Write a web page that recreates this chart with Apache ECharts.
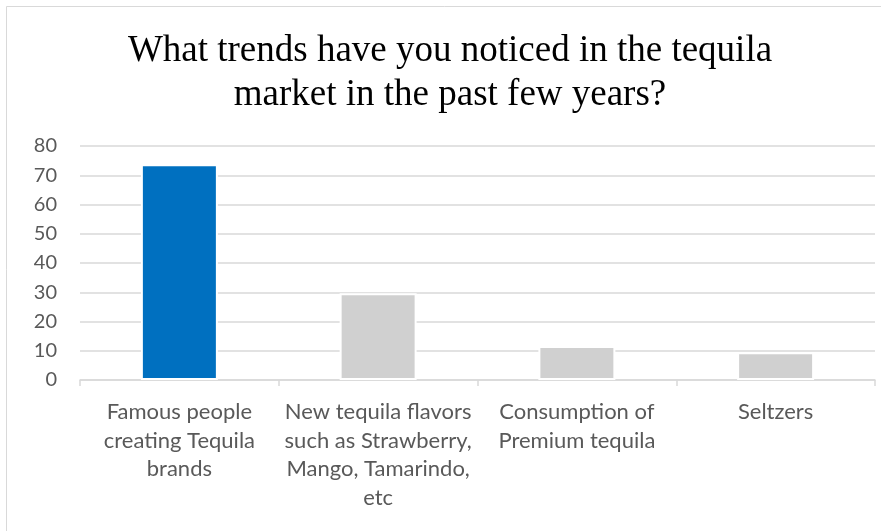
<!DOCTYPE html>
<html>
<head>
<meta charset="utf-8">
<script src="https://cdn.jsdelivr.net/npm/echarts@6/dist/echarts.min.js"></script>
<style>
  html, body { margin: 0; padding: 0; background: #ffffff; }
  #chart { width: 881px; height: 531px; }
</style>
</head>
<body>
<div id="chart"></div>
<script>
// Survey answers: share of respondents per trend
const titleText = 'What trends have you noticed in the tequila\nmarket in the past few years?';
const categories = [
  'Famous people\ncreating Tequila\nbrands',
  'New tequila flavors\nsuch as Strawberry,\nMango, Tamarindo,\netc',
  'Consumption of\nPremium tequila',
  'Seltzers'
];
const responses = [73.8, 29.7, 11.6, 9.5];
const barColors = ['#0070c0', '#d0d0d0', '#d0d0d0', '#d0d0d0'];
const yTicks = { min: 0, max: 80, interval: 10 };

const chart = echarts.init(document.getElementById('chart'), null, { renderer: 'canvas' });

chart.setOption({
  backgroundColor: '#ffffff',
  animation: false,
  graphic: [{
    type: 'rect',
    shape: { x: 6.5, y: 6.5, width: 880, height: 530 },
    style: { fill: 'none', stroke: '#d9d9d9', lineWidth: 1 },
    silent: true
  }, {
    type: 'text',
    x: 450,
    y: 29,
    silent: true,
    style: {
      text: titleText,
      fill: '#000000',
      font: '37px "Liberation Serif", "Times New Roman", serif',
      align: 'center',
      verticalAlign: 'top',
      lineHeight: 44
    }
  }],
  grid: { left: 80, right: 6, top: 146, bottom: 151, containLabel: false },
  xAxis: {
    type: 'category',
    data: categories,
    axisLine: { show: true, lineStyle: { color: '#d9d9d9', width: 1.5 } },
    axisTick: { show: true, alignWithLabel: false, length: 6, lineStyle: { color: '#d9d9d9', width: 1.5 } },
    axisLabel: {
      interval: 0,
      margin: 18,
      color: '#595959',
      fontFamily: 'Lato, sans-serif',
      fontSize: 22,
      lineHeight: 28.5
    }
  },
  yAxis: {
    type: 'value',
    min: yTicks.min,
    max: yTicks.max,
    interval: yTicks.interval,
    axisLine: { show: false },
    axisTick: { show: false },
    splitLine: { show: true, lineStyle: { color: '#d9d9d9', width: 1.5 } },
    axisLabel: {
      margin: 23,
      color: '#595959',
      fontFamily: 'Lato, sans-serif',
      fontSize: 20
    }
  },
  series: [{
    type: 'bar',
    data: responses.map((v, i) => ({ value: v, itemStyle: { color: barColors[i] } })),
    barWidth: 77,
    itemStyle: { borderColor: '#ffffff', borderWidth: 2 },
    z: 3
  }]
});
</script>
</body>
</html>
